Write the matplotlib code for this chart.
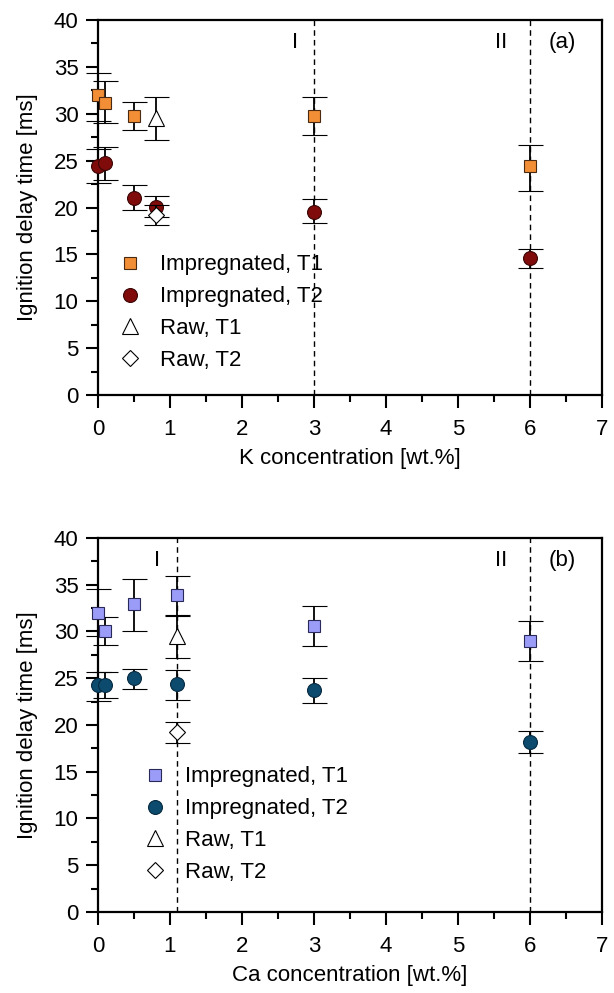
import matplotlib
matplotlib.use('Agg')
import matplotlib.pyplot as plt
from matplotlib.ticker import MultipleLocator

plt.rcParams['font.family'] = ['Liberation Sans', 'DejaVu Sans']

# panel (a) - K impregnated
k_x = [0, 0.1, 0.5, 3, 6]
k_t1 = [32.0, 31.2, 29.8, 29.8, 24.4]
k_t1_lo = [2.8, 2.2, 1.5, 2.1, 2.6]
k_t1_hi = [2.4, 2.3, 1.5, 2.0, 2.3]
k_t2 = [24.4, 24.7, 21.0, 19.5, 14.6]
k_t2_lo = [1.8, 1.8, 1.3, 1.2, 1.0]
k_t2_hi = [1.8, 1.8, 1.4, 1.4, 1.0]
# impregnated K at 0.8 wt.% (T2) sits under the raw diamond
k_x_08 = [0.8]
k_t2_08 = [20.1]
k_t2_08_err = [1.1]

# panel (b) - Ca impregnated
ca_x = [0, 0.1, 0.5, 1.1, 3, 6]
ca_t1 = [32.0, 30.1, 32.9, 33.9, 30.6, 29.0]
ca_t1_lo = [2.5, 1.5, 2.8, 2.2, 2.1, 2.2]
ca_t1_hi = [2.5, 1.5, 2.7, 2.0, 2.1, 2.1]
ca_t2 = [24.3, 24.3, 25.0, 24.4, 23.7, 18.2]
ca_t2_lo = [1.7, 1.4, 1.2, 1.7, 1.3, 1.2]
ca_t2_hi = [1.4, 1.4, 1.0, 1.5, 1.3, 1.2]

# raw samples
raw_k_x = [0.8]
raw_ca_x = [1.1]
raw_t1 = [29.5]
raw_t1_err = [2.3]
raw_t2 = [19.2]
raw_t2_err = [1.1]

k_lines = [3, 6]
ca_lines = [1.1, 6]
labels = ['Impregnated, T1', 'Impregnated, T2', 'Raw, T1', 'Raw, T2']

FS = 16


def style_axes(ax, xlabel, tag, lines, lab1_x, lab2_x):
    ax.set_xlim(0, 7)
    ax.set_ylim(0, 40)
    ax.xaxis.set_major_locator(MultipleLocator(1))
    ax.xaxis.set_minor_locator(MultipleLocator(0.5))
    ax.yaxis.set_major_locator(MultipleLocator(5))
    ax.yaxis.set_minor_locator(MultipleLocator(2.5))
    ax.tick_params(which='both', direction='out', top=False, right=False,
                   width=1.5, labelsize=FS)
    ax.tick_params(axis='x', pad=8)
    ax.tick_params(axis='y', pad=5)
    ax.tick_params(which='major', length=9)
    ax.tick_params(which='minor', length=5)
    for s in ax.spines.values():
        s.set_linewidth(1.6)
    ax.set_xlabel(xlabel, fontsize=FS, labelpad=6)
    ax.set_ylabel('Ignition delay time [ms]', fontsize=FS)
    ax.yaxis.set_label_coords(-0.12, 0.5)
    for xv in lines:
        ax.axvline(xv, color='black', lw=1, ls=(0, (4, 3)), zorder=1)
    ax.text(lab1_x, 37.6, 'I', fontsize=FS, ha='center', va='center')
    ax.text(lab2_x, 37.6, 'II', fontsize=FS, ha='center', va='center')
    ax.text(6.45, 37.6, tag, fontsize=FS, ha='center', va='center')


def unclip(container):
    for art in container.get_children():
        art.set_clip_on(False)


fig = plt.figure(figsize=(6.14, 9.93), dpi=100)
ax1 = fig.add_axes([0.1596, 0.6022, 0.8208, 0.3776])
ax2 = fig.add_axes([0.1596, 0.0816, 0.8208, 0.3766])

eb = dict(ecolor='black', elinewidth=1.3, capsize=9, capthick=1.3, ls='none',
          markeredgewidth=0.8, zorder=3)
leg = dict(loc='upper left', frameon=False, fontsize=FS, handlelength=1.4,
           handletextpad=0.65, labelspacing=0.49, borderaxespad=0, borderpad=0)

# panel (a)
h1 = ax1.errorbar(k_x, k_t1, yerr=[k_t1_lo, k_t1_hi], fmt='s', ms=9,
                  markerfacecolor='#f28e36', markeredgecolor='#4a2a10', **eb)
h2 = ax1.errorbar(k_x, k_t2, yerr=[k_t2_lo, k_t2_hi], fmt='o', ms=10,
                  markerfacecolor='#800b0b', markeredgecolor='#3a0505', **eb)
h2b = ax1.errorbar(k_x_08, k_t2_08, yerr=[k_t2_08_err], fmt='o', ms=10,
                   markerfacecolor='#800b0b', markeredgecolor='#3a0505', **eb)
h3 = ax1.errorbar(raw_k_x, raw_t1, yerr=[raw_t1_err], fmt='^', ms=11,
                  markerfacecolor='white', markeredgecolor='black', **{**eb, 'zorder': 4})
h4 = ax1.errorbar(raw_k_x, raw_t2, yerr=[raw_t2_err], fmt='D', ms=8,
                  markerfacecolor='white', markeredgecolor='black', **{**eb, 'zorder': 4})
for c in (h1, h2, h2b, h3, h4):
    unclip(c)
style_axes(ax1, 'K concentration [wt.%]', '(a)', k_lines, 2.74, 5.6)
ax1.legend(handles=[h1[0], h2[0], h3[0], h4[0]], labels=labels,
           bbox_to_anchor=(0.033, 0.375), **leg)

# panel (b)
g1 = ax2.errorbar(ca_x, ca_t1, yerr=[ca_t1_lo, ca_t1_hi], fmt='s', ms=9,
                  markerfacecolor='#9b9cf7', markeredgecolor='#2a2a5a', **eb)
g2 = ax2.errorbar(ca_x, ca_t2, yerr=[ca_t2_lo, ca_t2_hi], fmt='o', ms=10,
                  markerfacecolor='#0c4a6e', markeredgecolor='#062a40', **eb)
g3 = ax2.errorbar(raw_ca_x, raw_t1, yerr=[raw_t1_err], fmt='^', ms=11,
                  markerfacecolor='white', markeredgecolor='black', **{**eb, 'zorder': 4})
g4 = ax2.errorbar(raw_ca_x, raw_t2, yerr=[raw_t2_err], fmt='D', ms=8,
                  markerfacecolor='white', markeredgecolor='black', **{**eb, 'zorder': 4})
for c in (g1, g2, g3, g4):
    unclip(c)
style_axes(ax2, 'Ca concentration [wt.%]', '(b)', ca_lines, 0.82, 5.6)
ax2.legend(handles=[g1[0], g2[0], g3[0], g4[0]], labels=labels,
           bbox_to_anchor=(0.082, 0.389), **leg)

fig.savefig('out.png', dpi=100)
